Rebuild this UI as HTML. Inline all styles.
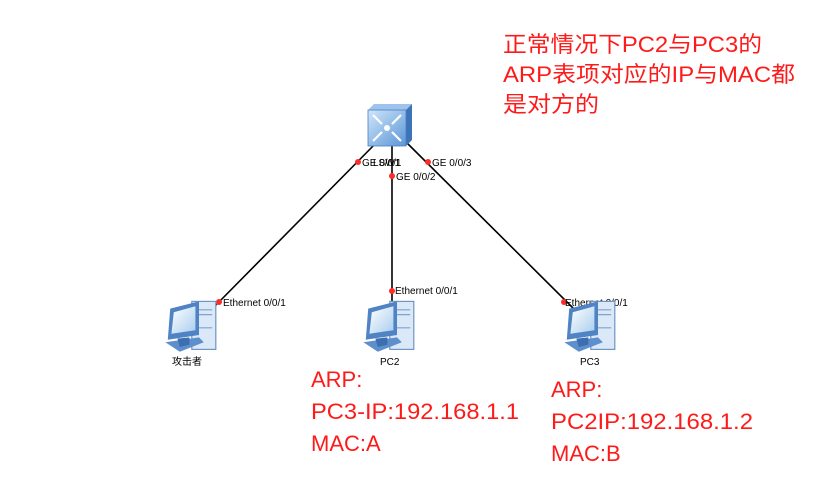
<!DOCTYPE html>
<html><head><meta charset="utf-8"><style>
html,body{margin:0;padding:0;background:#fff;}
svg{display:block;}
.r{fill:#ff1a1a;font-family:"Liberation Sans","Noto Sans CJK SC",sans-serif;font-size:22px;}
.s{fill:#000;font-family:"Liberation Sans","Noto Sans CJK SC",sans-serif;font-size:10px;}
</style></head><body>
<svg width="832" height="487" viewBox="0 0 832 487" xmlns="http://www.w3.org/2000/svg">
<defs>
<linearGradient id="sw" x1="0" y1="0" x2="1" y2="1"><stop offset="0" stop-color="#cfe6fb"/><stop offset="1" stop-color="#5b95d6"/></linearGradient>
<linearGradient id="scr" x1="0" y1="0" x2="1" y2="1"><stop offset="0" stop-color="#ffffff"/><stop offset="1" stop-color="#a9cdee"/></linearGradient>
<g id="pc">
<rect x="24" y="2" width="20" height="40" fill="#dbe8f7" stroke="#6f95c4" stroke-width="1"/>
<line x1="27" y1="9" x2="41" y2="9" stroke="#7fa2cf"/>
<line x1="27" y1="13" x2="41" y2="13" stroke="#7fa2cf"/>
<line x1="27" y1="24" x2="41" y2="24" stroke="#7fa2cf"/>
<path d="M6 8 L30 2 L30 30 L4 34 Z" fill="#4f83c4"/>
<path d="M9 11 L27 6 L27 26 L7 29 Z" fill="url(#scr)"/>
<path d="M2 36 L30 32 L34 36 L14 44 Z" fill="#5d8fcd"/>
<path d="M12 33 L22 32 L22 38 L14 40 Z" fill="#3c6fb0"/>
</g>
</defs>
<line x1="379" y1="140" x2="214" y2="307" stroke="#000" stroke-width="1.6"/>
<line x1="392" y1="142" x2="392" y2="302" stroke="#000" stroke-width="1.6"/>
<line x1="404" y1="140" x2="575" y2="310" stroke="#000" stroke-width="1.6"/>
<path d="M368 110 L374 104 L412 104 L406 110 Z" fill="#9ec4ee"/>
<path d="M406 110 L412 104 L412 140 L406 146 Z" fill="#3d74b8"/>
<rect x="368" y="110" width="38" height="36" fill="url(#sw)" stroke="#4a7fc0" stroke-width="0.8"/>
<g stroke="#fff" stroke-width="2.2" fill="none">
<line x1="373" y1="115" x2="382" y2="124"/><line x1="401" y1="115" x2="392" y2="124"/>
<line x1="373" y1="141" x2="382" y2="132"/><line x1="401" y1="141" x2="392" y2="132"/>
</g>
<circle cx="387" cy="128" r="3" fill="#fff"/>
<text class="s" x="373" y="166" font-size="11">LSW1</text>
<g fill="#ff2a2a">
<circle cx="358" cy="162" r="3"/><circle cx="392" cy="176" r="3"/><circle cx="428" cy="162" r="3"/>
<circle cx="219" cy="302" r="3"/><circle cx="392" cy="291" r="3"/><circle cx="564" cy="302" r="3"/>
</g>
<text class="s" x="362" y="166">GE 0/0/1</text>
<text class="s" x="396" y="180">GE 0/0/2</text>
<text class="s" x="432" y="166">GE 0/0/3</text>
<text class="s" x="223" y="306">Ethernet 0/0/1</text>
<text class="s" x="395" y="294">Ethernet 0/0/1</text>
<text class="s" x="565" y="306">Ethernet 0/0/1</text>
<use href="#pc" transform="translate(163,299) scale(1.2)"/>
<use href="#pc" transform="translate(361,299) scale(1.2)"/>
<use href="#pc" transform="translate(562,299) scale(1.2)"/>
<text class="s" x="172" y="365" font-size="11">攻击者</text>
<text class="s" x="380" y="365" font-size="11">PC2</text>
<text class="s" x="580" y="365" font-size="11">PC3</text>
<text class="r" x="503" y="52" textLength="259" lengthAdjust="spacingAndGlyphs">正常情况下PC2与PC3的</text>
<text class="r" x="503" y="82" textLength="292" lengthAdjust="spacingAndGlyphs">ARP表项对应的IP与MAC都</text>
<text class="r" x="503" y="112" textLength="96" lengthAdjust="spacingAndGlyphs">是对方的</text>
<text class="r" x="311" y="387">ARP:</text>
<text class="r" x="311" y="419" textLength="208" lengthAdjust="spacingAndGlyphs">PC3-IP:192.168.1.1</text>
<text class="r" x="311" y="451">MAC:A</text>
<text class="r" x="551" y="397">ARP:</text>
<text class="r" x="551" y="429" textLength="202" lengthAdjust="spacingAndGlyphs">PC2IP:192.168.1.2</text>
<text class="r" x="551" y="461">MAC:B</text>
</svg>
</body></html>
